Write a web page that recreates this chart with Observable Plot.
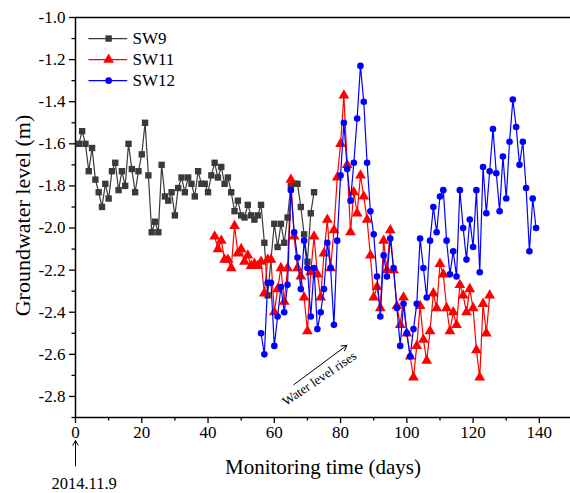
<!DOCTYPE html>
<html><head><meta charset="utf-8">
<script src="https://cdn.jsdelivr.net/npm/d3@7"></script>
<script src="https://cdn.jsdelivr.net/npm/@observablehq/plot@0.6"></script>
<style>
html,body{margin:0;padding:0;background:#fff;}
</style>
</head><body><div id="chart"></div>
<script>
// ---- data ----
const seriesNames = ["SW9", "SW11", "SW12"];
const seriesColors = ["#3a3a3a", "#ff0000", "#0000ff"];
const seriesSymbols = ["square", "triangle", "circle"];

const sw9Days = [1,2,3,4,5,6,7,8,9,10,11,12,13,14,15,16,17,18,19,20,21,22,23,24,25,26,27,28,29,30,
  31,32,33,34,35,36,37,38,39,40,41,42,43,44,45,46,47,48,49,50,51,52,53,54,55,56,57,58,
  60,61,62,63,64,65,66,67,68,69,70,71,72];
const sw9Level = [-1.60,-1.54,-1.60,-1.73,-1.62,-1.77,-1.83,-1.90,-1.79,-1.86,
  -1.73,-1.69,-1.82,-1.73,-1.80,-1.60,-1.72,-1.83,-1.73,-1.65,
  -1.50,-1.75,-2.02,-1.97,-2.02,-1.70,-1.85,-1.87,-1.83,-1.94,
  -1.81,-1.76,-1.83,-1.76,-1.79,-1.85,-1.73,-1.79,-1.79,-1.83,
  -1.75,-1.69,-1.76,-1.71,-1.79,-1.76,-1.83,-1.92,-1.87,-1.94,
  -1.95,-1.89,-1.94,-1.96,-1.94,-1.89,-2.07,-2.32,
  -1.98,-2.09,-1.98,-2.07,-1.95,-1.80,-1.79,-1.79,-1.90,-2.03,-2.16,-1.93,-1.83];

const sw11FirstDay = 42;
const sw11Level = [-2.04,-2.10,-2.06,-2.15,-2.15,-2.19,-1.99,-2.12,-2.10,-2.16,
  -2.13,-2.18,-2.17,-2.18,-2.16,-2.31,-2.15,-2.15,-2.40,-2.29,
  -2.19,-2.35,-2.19,-1.77,-2.04,-2.19,-2.23,-2.33,-2.49,-2.21,
  -2.04,-2.22,-2.33,-2.12,-1.96,-2.19,-2.01,-1.76,-1.60,-1.37,
  -1.70,-2.02,-1.83,-1.93,-1.75,-1.85,-1.96,-2.13,-2.33,-2.28,
  -2.38,-2.06,-2.20,-2.01,-2.20,-2.37,-2.46,-2.33,-2.50,-2.61,
  -2.71,-2.56,-2.37,-2.53,-2.63,-2.49,-2.31,-2.38,-2.17,-2.22,
  -2.38,-2.49,-2.40,-2.46,-2.27,-2.32,-2.40,-2.29,-2.38,-2.58,
  -2.71,-2.36,-2.50,-2.32];

const sw12FirstDay = 56;
const sw12Level = [-2.50,-2.60,-2.26,-2.26,-2.56,-2.42,-2.28,-2.40,-2.27,-1.82,
  -2.02,-2.14,-2.29,-2.06,-2.19,-2.42,-2.19,-2.48,-2.40,-2.29,
  -2.07,-2.19,-2.46,-2.06,-1.75,-1.50,-1.72,-1.87,-1.69,-1.48,
  -1.23,-1.40,-1.69,-1.92,-2.03,-2.23,-2.42,-2.13,-2.23,-2.05,
  -2.19,-2.38,-2.56,-2.36,-2.50,-2.61,-2.48,-2.36,-2.05,-2.19,
  -2.33,-2.06,-1.90,-2.02,-1.85,-1.82,-2.06,-2.22,-2.11,-2.23,
  -1.82,-2.00,-2.15,-1.96,-2.09,-1.82,-2.21,-1.71,-1.93,-1.73,
  -1.53,-1.74,-1.92,-1.66,-1.86,-1.59,-1.39,-1.52,-1.70,-1.59,
  -1.81,-2.11,-1.86,-2.00];

const xTicks = [0,20,40,60,80,100,120,140];
const xMinorTicks = [10,30,50,70,90,110,130];
const yTicks = [-2.8,-2.6,-2.4,-2.2,-2.0,-1.8,-1.6,-1.4,-1.2,-1.0];
const yMinorTicks = [-2.9,-2.7,-2.5,-2.3,-2.1,-1.9,-1.7,-1.5,-1.3,-1.1];

const xTitle = "Monitoring time (days)";
const yTitle = "Groundwater level (m)";
const startDateLabel = "2014.11.9";
const trendLabel = "Water level rises";

// ---- build tables ----
const sw9 = sw9Days.map((d, i) => ({day: d, level: sw9Level[i]}));
const sw11 = sw11Level.map((v, i) => ({day: sw11FirstDay + i, level: v}));
const sw12 = sw12Level.map((v, i) => ({day: sw12FirstDay + i, level: v}));
const allSeries = [sw9, sw11, sw12];
const symbolR = [3.6, 4.0, 3.3];

const legendRows = seriesNames.map((name, i) => ({name, i, y: -1.10 - 0.10 * i}));

const font = "Liberation Serif";
const txt = {fontFamily: font, fill: "black"};
const marks = [];

// frame lines
marks.push(Plot.ruleY([-1.0], {stroke: "black", strokeWidth: 1.5}));
marks.push(Plot.ruleY([-2.9], {stroke: "black", strokeWidth: 1.5}));
marks.push(Plot.ruleX([0], {stroke: "black", strokeWidth: 1.5}));

// ticks + tick labels
marks.push(Plot.axisY(yTicks, {tickSize: 6, strokeWidth: 1.3, text: null, label: null}));
marks.push(Plot.axisY(yMinorTicks, {tickSize: 3.5, strokeWidth: 1.3, text: null, label: null}));
marks.push(Plot.axisX(xTicks, {tickSize: 6, strokeWidth: 1.3, text: null, label: null}));
marks.push(Plot.axisX(xMinorTicks, {tickSize: 3.5, strokeWidth: 1.3, text: null, label: null}));
marks.push(Plot.text(yTicks, {x: 0, y: d => d, text: d => d.toFixed(1), textAnchor: "end", dx: -10, fontSize: 17, ...txt}));
marks.push(Plot.text(xTicks, {x: d => d, y: -2.9, text: d => String(d), lineAnchor: "top", dy: 8, fontSize: 17, ...txt}));

// titles
marks.push(Plot.text([yTitle], {frameAnchor: "left", textAnchor: "middle", lineAnchor: "middle", dx: -53, dy: -2, rotate: -90, fontSize: 22, ...txt}));
marks.push(Plot.text([xTitle], {frameAnchor: "bottom", textAnchor: "middle", lineAnchor: "middle", dy: 50, fontSize: 21, ...txt}));

// series
allSeries.forEach((data, i) => {
  marks.push(Plot.line(data, {x: "day", y: "level", stroke: seriesColors[i], strokeWidth: 1.2}));
  marks.push(Plot.dot(data, {x: "day", y: "level", symbol: seriesSymbols[i], fill: seriesColors[i], r: symbolR[i]}));
});

// legend
marks.push(Plot.link(legendRows, {x1: 3.9, x2: 15.6, y1: "y", y2: "y", stroke: d => seriesColors[d.i], strokeWidth: 1.2}));
legendRows.forEach(row => {
  marks.push(Plot.dot([row], {x: 10, y: "y", symbol: seriesSymbols[row.i], fill: seriesColors[row.i], r: symbolR[row.i]}));
});
marks.push(Plot.text(legendRows, {x: 17.2, y: "y", text: "name", textAnchor: "start", fontSize: 17, ...txt}));

// annotations
marks.push(Plot.arrow([0], {x1: 65.9, y1: -2.744, x2: 81.9, y2: -2.557, stroke: "black", strokeWidth: 1, headLength: 9}));
marks.push(Plot.text([trendLabel], {x: 73.6, y: -2.715, rotate: -34, fontSize: 13, ...txt}));
marks.push(Plot.arrow([0], {x1: 0, y1: -3.13, x2: 0, y2: -3.01, stroke: "black", strokeWidth: 1, headLength: 8}));
marks.push(Plot.text([startDateLabel], {x: 2.6, y: -3.215, fontSize: 16.5, ...txt}));

const chart = Plot.plot({
  width: 570,
  height: 493,
  marginLeft: 75,
  marginRight: 0,
  marginTop: 17,
  marginBottom: 76,
  x: {domain: [0, 150], range: [75, 572]},
  y: {domain: [-2.9, -1.0], range: [417, 17]},
  style: {fontFamily: font, background: "white", overflow: "visible"},
  marks
});
document.getElementById("chart").appendChild(chart);
</script>
</body></html>
